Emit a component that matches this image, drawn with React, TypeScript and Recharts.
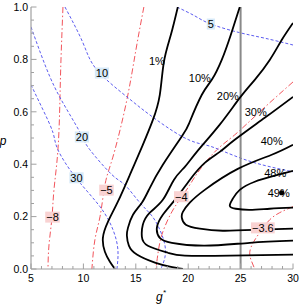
import React from 'react';
import { ComposedChart, Line, XAxis, YAxis, ReferenceLine, ReferenceDot } from 'recharts';

type Pair = [number, number];

const gTicks = [5, 10, 15, 20, 25, 30];
const pTicks = [0, 0.2, 0.4, 0.6, 0.8, 1.0];

// success-probability contours (black)
const pct1: Pair[] = [[19.01, 1.0], [18.34, 0.893], [17.68, 0.79], [17.29, 0.665], [16.63, 0.569], [15.67, 0.474], [14.44, 0.36], [13.29, 0.257], [12.34, 0.18], [11.86, 0.119], [12.05, 0.066], [12.53, 0.028], [13.01, 0]];
const pct10: Pair[] = [[24.92, 1.0], [24.06, 0.893], [23.2, 0.798], [22.25, 0.722], [21.3, 0.665], [20.15, 0.562], [19.49, 0.512], [17.58, 0.398], [16.34, 0.31], [15.58, 0.253], [14.73, 0.207], [14.25, 0.157], [14.15, 0.127], [14.34, 0.089], [15.1, 0.055], [16.82, 0.024], [18.25, 0.009], [19.49, 0]];
const pct20: Pair[] = [[30, 0.939], [28.92, 0.874], [27.78, 0.798], [26.35, 0.722], [24.92, 0.653], [23.01, 0.551], [20.82, 0.447], [19.68, 0.39], [18.63, 0.34], [17.58, 0.264], [16.34, 0.215], [15.67, 0.169], [15.58, 0.123], [16.15, 0.089], [18.06, 0.062], [19.68, 0.051], [23.97, 0.051], [30, 0.055]];
const pct30: Pair[] = [[30, 0.657], [27.3, 0.577], [24.44, 0.493], [23.01, 0.447], [21.58, 0.405], [20.15, 0.34], [18.73, 0.264], [17.58, 0.207], [17.01, 0.157], [17.29, 0.119], [18.44, 0.1], [21.58, 0.089], [25.87, 0.1], [30, 0.108]];
const pct40: Pair[] = [[30, 0.474], [27.97, 0.436], [24.73, 0.382], [21.58, 0.302], [20.15, 0.253], [19.49, 0.218], [19.39, 0.196], [19.77, 0.169], [21.11, 0.154], [23.3, 0.146], [26.83, 0.15], [30, 0.154]];
const pct48: Pair[] = [[30, 0.375], [28.26, 0.356], [26.35, 0.333], [24.92, 0.302], [24.25, 0.268], [23.97, 0.241], [24.54, 0.23], [25.87, 0.226], [27.78, 0.23], [30, 0.234]];
const maxPoint: Pair = [28.92, 0.291];

// red dash-dot contours
const neg8: Pair[] = [[8.05, 1.0], [7.86, 0.798], [7.76, 0.646], [7.57, 0.455], [7.19, 0.302], [7.0, 0.196], [6.72, 0.093], [6.62, 0]];
const neg5: Pair[] = [[15.77, 1.0], [15.01, 0.836], [14.15, 0.646], [13.01, 0.455], [12.34, 0.367], [11.96, 0.299], [11.58, 0.199], [11.1, 0.112], [10.81, 0]];
const neg4: Pair[] = [[30, 0.714], [26.83, 0.6], [24.44, 0.512], [22.73, 0.455], [21.11, 0.379], [20.15, 0.321], [19.39, 0.276], [18.44, 0.218], [17.49, 0.131], [17.1, 0.055], [16.91, 0]];
const neg36: Pair[] = [[30, 0.238], [28.73, 0.215], [27.78, 0.188], [27.02, 0.15], [26.25, 0.104], [25.87, 0.062], [26.06, 0.028], [26.35, 0]];

// blue dashed contours
const blue5: Pair[] = [[18.92, 1.0], [20.63, 0.966], [22.16, 0.935], [24.92, 0.902], [27.3, 0.881], [30, 0.855]];
const blue10: Pair[] = [[8.24, 1.0], [9.96, 0.863], [11.29, 0.76], [14.15, 0.657], [16.34, 0.588], [19.49, 0.504], [21.58, 0.474], [23.01, 0.455], [26.06, 0.409], [30, 0.371]];
const blue20: Pair[] = [[5, 0.924], [6.81, 0.733], [8.43, 0.608], [9.86, 0.508], [10.62, 0.455], [12.72, 0.36], [13.96, 0.321], [15.39, 0.253], [16.53, 0.203], [17.29, 0.15], [17.77, 0.093], [17.77, 0.043], [17.39, 0]];
const blue30: Pair[] = [[5, 0.703], [6.14, 0.608], [7.1, 0.52], [7.57, 0.455], [9.29, 0.348], [11.58, 0.238], [12.82, 0.15], [13.29, 0.074], [13.2, 0]];

// contour labels: [g, p, text]
const pctLabels: [number, number, string][] = [[17.01, 0.794, '1%'], [21.11, 0.729, '10%'], [23.78, 0.661, '20%'], [26.44, 0.598, '30%'], [27.97, 0.487, '40%'], [28.3, 0.366, '48%'], [28.64, 0.291, '49%']];
const blueLabels: [number, number, string][] = [[22.16, 0.935, '5'], [11.77, 0.748, '10'], [9.86, 0.504, '20'], [9.34, 0.348, '30']];
const redLabels: [number, number, string][] = [[7.05, 0.198, '−8'], [12.2, 0.301, '−5'], [19.34, 0.276, '−4'], [27.12, 0.157, '−3.6']];

const W = 300;
const H = 308;
const M = { top: 7, right: 7, left: 0, bottom: 0 };
const Y_AXIS_W = 31;
const X_AXIS_H = 39;
const PLOT = { left: M.left + Y_AXIS_W, right: W - M.right, top: M.top, bottom: H - X_AXIS_H };

const FONT = '"Liberation Sans", Arial, sans-serif';
const FRAME = '#a0a0a0';
const RED = '#f2545b';
const BLUE = '#5c5cf0';

const toPts = (arr: Pair[]) => arr.map(([g, p]) => ({ g, p }));

// minor ticks: 1 unit on g, 0.05 on p
const gAll: number[] = [];
for (let i = gTicks[0]; i <= gTicks[gTicks.length - 1]; i++) gAll.push(i);
const pAll: number[] = [];
for (let i = 0; i <= 20; i++) pAll.push(+(i * 0.05).toFixed(2));

const isMajorG = (v: number) => gTicks.includes(v);
const isMajorP = (v: number) => pTicks.some((t) => Math.abs(t - v) < 1e-6);

function charW(c: string) {
  if (c === '%') return 0.889;
  if (c === '.') return 0.278;
  if (c === '−') return 0.584;
  return 0.556;
}
const textWidth = (s: string, size: number) => s.split('').reduce((a, c) => a + charW(c) * size, 0);

function BottomTick(props: any) {
  const { x, payload } = props;
  const major = isMajorG(payload.value);
  return (
    <g>
      <line x1={x} x2={x} y1={PLOT.bottom} y2={PLOT.bottom - (major ? 5.5 : 3)} stroke={FRAME} />
      {major && (
        <text x={x} y={PLOT.bottom + 13} textAnchor="middle" fontSize={10.5} fontFamily={FONT} fill="#000">
          {payload.value}
        </text>
      )}
    </g>
  );
}

function TopTick(props: any) {
  const { x, payload } = props;
  const major = isMajorG(payload.value);
  return <line x1={x} x2={x} y1={PLOT.top} y2={PLOT.top + (major ? 5.5 : 3)} stroke={FRAME} />;
}

function LeftTick(props: any) {
  const { y, payload } = props;
  const major = isMajorP(payload.value);
  return (
    <g>
      <line x1={PLOT.left} x2={PLOT.left + (major ? 5.5 : 3)} y1={y} y2={y} stroke={FRAME} />
      {major && (
        <text x={PLOT.left - 3} y={y + 3.8} textAnchor="end" fontSize={10.5} fontFamily={FONT} fill="#000">
          {payload.value.toFixed(1)}
        </text>
      )}
    </g>
  );
}

function RightTick(props: any) {
  const { y, payload } = props;
  const major = isMajorP(payload.value);
  return <line x1={PLOT.right} x2={PLOT.right - (major ? 5.5 : 3)} y1={y} y2={y} stroke={FRAME} />;
}

function tag(text: string, bg: string | null) {
  return (props: any) => {
    const { cx, cy } = props;
    const size = 11;
    const w = textWidth(text, size) + 2;
    return (
      <g>
        {bg && <rect x={cx - w / 2} y={cy - 5.5} width={w} height={11} fill={bg} stroke="none" />}
        <text x={cx} y={cy + 3.9} textAnchor="middle" fontSize={size} fontFamily={FONT} fill="#000" stroke="none">
          {text}
        </text>
      </g>
    );
  };
}

const dotShape = (props: any) => <circle cx={props.cx} cy={props.cy} r={2.6} fill="#000" />;

export default function App() {
  const black = [pct1, pct10, pct20, pct30, pct40, pct48];
  const reds = [neg8, neg5, neg4, neg36];
  const blues = [blue5, blue10, blue20, blue30];
  const labelDot = (g: number, p: number, text: string, bg: string | null, key: string) => (
    <ReferenceDot key={key} x={g} y={p} r={0} ifOverflow="visible" shape={tag(text, bg)} />
  );
  return (
    <div>
      <style>{'body{margin:0}'}</style>
      <ComposedChart width={W} height={H} margin={M}>
        <XAxis
          dataKey="g"
          type="number"
          domain={[5, 30]}
          allowDataOverflow
          ticks={gAll}
          interval={0}
          height={X_AXIS_H}
          tickLine={false}
          axisLine={{ stroke: FRAME, strokeWidth: 1.2 }}
          tick={<BottomTick />}
          label={{
            content: (lp: any) => {
              const vb = lp.viewBox || { x: PLOT.left, y: PLOT.bottom, width: PLOT.right - PLOT.left };
              return (
                <text x={vb.x + vb.width / 2 - 1} y={vb.y + 32} textAnchor="middle" fontSize={12} fontStyle="italic" fontFamily={FONT} fill="#000">
                  g<tspan fontSize={8} dy={-6}>*</tspan>
                </text>
              );
            },
          }}
        />
        <XAxis
          xAxisId="top"
          orientation="top"
          dataKey="g"
          type="number"
          domain={[5, 30]}
          allowDataOverflow
          ticks={gAll}
          interval={0}
          height={0}
          tickLine={false}
          axisLine={{ stroke: FRAME, strokeWidth: 1.2 }}
          tick={<TopTick />}
        />
        <YAxis
          type="number"
          domain={[0, 1]}
          allowDataOverflow
          ticks={pAll}
          interval={0}
          width={Y_AXIS_W}
          tickLine={false}
          axisLine={{ stroke: FRAME, strokeWidth: 1.2 }}
          tick={<LeftTick />}
          label={{
            content: (lp: any) => {
              const vb = lp.viewBox || { x: 0, y: PLOT.top, height: PLOT.bottom - PLOT.top };
              return (
                <text x={3} y={vb.y + vb.height / 2 + 7} textAnchor="middle" fontSize={12} fontStyle="italic" fontFamily={FONT} fill="#000">
                  p
                </text>
              );
            },
          }}
        />
        <YAxis
          yAxisId="right"
          orientation="right"
          type="number"
          domain={[0, 1]}
          allowDataOverflow
          ticks={pAll}
          interval={0}
          width={0}
          tickLine={false}
          axisLine={{ stroke: FRAME, strokeWidth: 1.2 }}
          tick={<RightTick />}
        />
        {reds.map((d, i) => (
          <Line
            key={'r' + i}
            data={toPts(d)}
            dataKey="p"
            type="natural"
            stroke={RED}
            strokeWidth={1}
            strokeDasharray="6 2.5 1.5 2.5"
            dot={false}
            activeDot={false}
            isAnimationActive={false}
          />
        ))}
        {blues.map((d, i) => (
          <Line
            key={'b' + i}
            data={toPts(d)}
            dataKey="p"
            type="natural"
            stroke={BLUE}
            strokeWidth={1}
            strokeDasharray="3 2"
            dot={false}
            activeDot={false}
            isAnimationActive={false}
          />
        ))}
        <ReferenceLine x={25} stroke="#8a8a8a" strokeWidth={2} />
        {black.map((d, i) => (
          <Line
            key={'k' + i}
            data={toPts(d)}
            dataKey="p"
            type="natural"
            stroke="#000"
            strokeWidth={1.8}
            dot={false}
            activeDot={false}
            isAnimationActive={false}
          />
        ))}
        {blueLabels.map(([g, p, t], i) => labelDot(g, p, t, '#d6e9f8', 'bl' + i))}
        {redLabels.map(([g, p, t], i) => labelDot(g, p, t, '#f9d2d2', 'rl' + i))}
        {pctLabels.map(([g, p, t], i) => labelDot(g, p, t, null, 'pl' + i))}
        <ReferenceDot x={maxPoint[0]} y={maxPoint[1]} r={0} ifOverflow="visible" shape={dotShape} />
      </ComposedChart>
    </div>
  );
}
